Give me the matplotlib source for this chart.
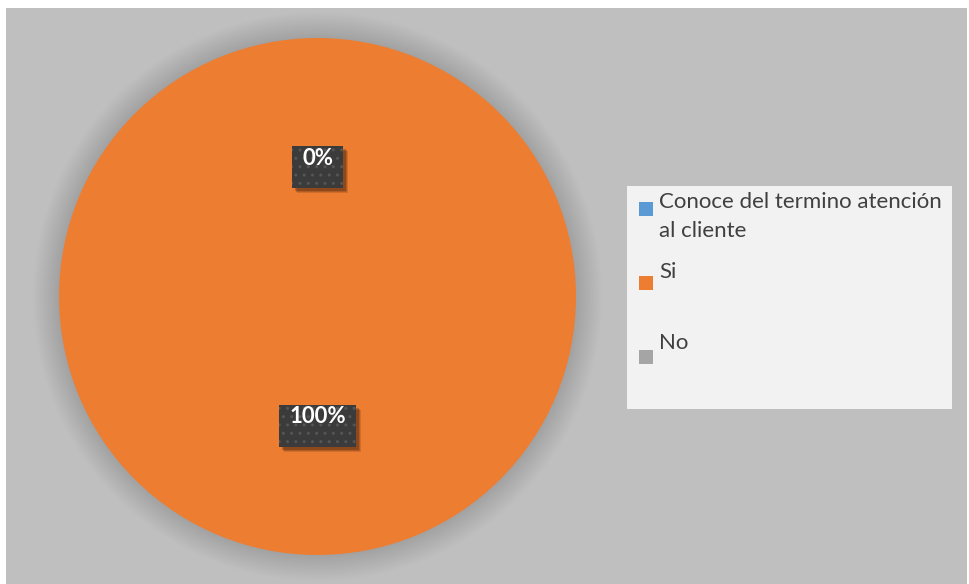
import numpy as np
import matplotlib.pyplot as plt
from matplotlib.patches import Rectangle, Circle

# one heading row plus the two answers
categories = ['Conoce del termino atención\nal cliente', 'Si', 'No']
values = [0, 100, 0]
show_value = [False, True, True]  # the heading row carries no value label
colors = ['#5B9BD5', '#ED7D31', '#A5A5A5']

plt.rcParams['font.family'] = ['Lato', 'DejaVu Sans']

W, H = 969, 584
fig = plt.figure(figsize=(W / 100, H / 100), dpi=100)
fig.patch.set_facecolor('white')


def px_axes(x, y, w, h, z):  # axes placed in pixels, y measured from the top
    a = fig.add_axes([x / W, 1 - (y + h) / H, w / W, h / H], zorder=z)
    a.set_xlim(0, W)
    a.set_ylim(H, 0)
    a.patch.set_alpha(0)
    a.axis('off')
    return a


bg = px_axes(0, 0, W, H, 0)
bg.add_patch(Rectangle((6, 8), W - 2 - 6, H - 8 + 4, color='#BFBFBF', lw=0))

# pie, radius 1 in data units
cx, cy, r = 317.5, 296.5, 258.5
lim = 1.15
side = 2 * r * lim
ax = fig.add_axes([(cx - side / 2) / W, 1 - (cy + side / 2) / H, side / W, side / H], zorder=1)
ax.patch.set_alpha(0)
for k in range(30):  # soft outer shadow
    ax.add_patch(Circle((0, 0), 1 + k * 0.0035, color='black', alpha=0.0055, lw=0, zorder=0))
wedges, _ = ax.pie(values, colors=colors, startangle=90, counterclock=False,
                   wedgeprops=dict(linewidth=0, zorder=1))
ax.set_xlim(-lim, lim)
ax.set_ylim(-lim, lim)
ax.axis('off')

fg = px_axes(0, 0, W, H, 2)
fig.canvas.draw()
renderer = fig.canvas.get_renderer()

# value labels in dark dotted boxes at half radius
total = sum(values)
for w, v, show in zip(wedges, values, show_value):
    if not show:
        continue
    ang = np.deg2rad((w.theta1 + w.theta2) / 2)
    dx, dy = ax.transData.transform((0.5 * np.cos(ang), 0.5 * np.sin(ang)))
    px, py = dx, H - dy
    t = fg.text(px, py - 9, f'{v / total:.0%}', color='white', fontsize=16,
                fontweight='bold', ha='center', va='center', zorder=5)
    tw = t.get_window_extent(renderer).width
    bw, bh = tw + 20, 42
    for s, a in [(5, 0.12), (4, 0.15), (3, 0.2)]:
        fg.add_patch(Rectangle((px - bw / 2 + s, py - bh / 2 + s), bw, bh,
                               color='black', alpha=a, lw=0, zorder=3))
    fg.add_patch(Rectangle((px - bw / 2, py - bh / 2), bw, bh, facecolor='#3B3B3B',
                           edgecolor='#555555', hatch='..', lw=0, zorder=4))

# legend
fg.add_patch(Rectangle((627, 186), 325, 223, color='#F2F2F2', lw=0, zorder=3))
for i, (name, col) in enumerate(zip(categories, colors)):
    fg.add_patch(Rectangle((639, 202 + 74 * i), 14, 14, color=col, lw=0, zorder=4))
    for j, line in enumerate(name.split('\n')):
        fg.text(659, 208 + 70.5 * i + 29 * j, line, color='#404040', fontsize=16,
                ha='left', va='baseline', zorder=5)

fig.savefig('out.png', dpi=100)
